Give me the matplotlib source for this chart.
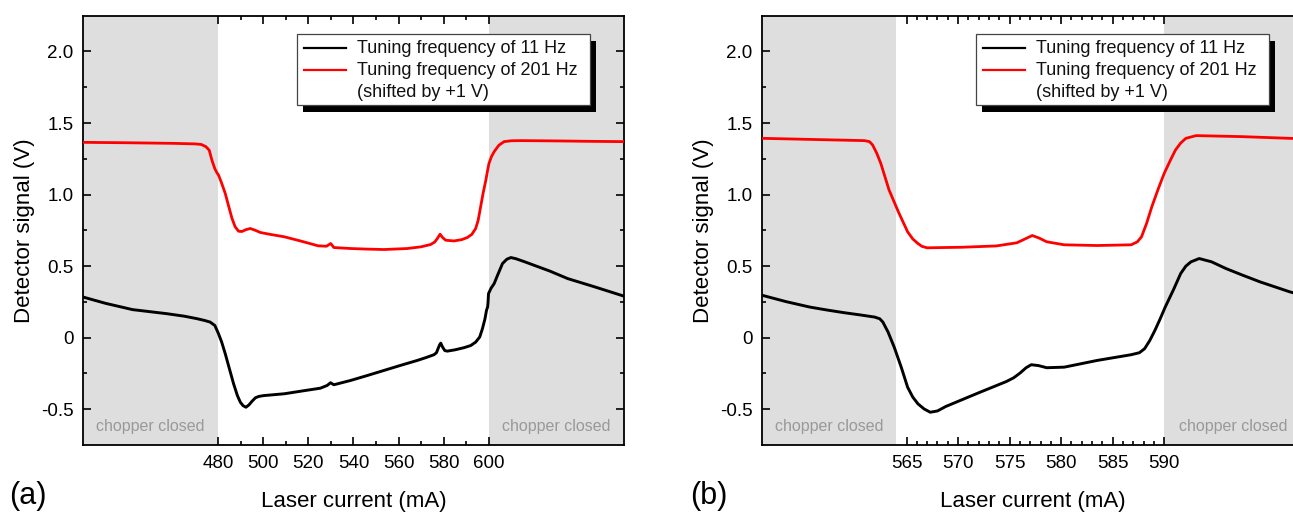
import matplotlib
matplotlib.use('Agg')
import matplotlib.pyplot as plt
from matplotlib.patches import Rectangle
from matplotlib.lines import Line2D
from matplotlib.ticker import FixedLocator, FuncFormatter

plt.rcParams['font.family'] = ['Liberation Sans', 'DejaVu Sans']

# ---------------- data: panel (a) ----------------
a_cur_black = [420, 430, 442, 457, 465, 470.5, 474, 476.4, 478.5, 480.1, 481.5, 483.1, 485, 486.8,
               488.5, 489.8, 491, 492.3, 493.6, 495.0, 496.5, 497.9, 500, 509.3, 517, 525.3, 528.3,
               529.8, 531.3, 538.7, 546, 553.5, 561, 568.3, 572, 575.7, 576.8, 577.5, 578.2, 578.7,
               579.5, 580.5, 581.6, 585, 589.0, 592, 594.2, 596, 597.2, 598.3, 599.0, 599.5, 599.7,
               599.9, 601, 602.4, 604, 606.1, 608, 609.8, 612, 616, 620.1, 627, 635.0, 647, 660]
a_sig_black = [0.284, 0.24, 0.196, 0.168, 0.150, 0.133, 0.120, 0.109, 0.085, 0.028, -0.030, -0.112,
               -0.220, -0.322, -0.405, -0.451, -0.475, -0.486, -0.470, -0.444, -0.420, -0.411,
               -0.405, -0.392, -0.373, -0.353, -0.334, -0.315, -0.329, -0.299, -0.265, -0.229,
               -0.193, -0.159, -0.140, -0.119, -0.105, -0.077, -0.050, -0.038, -0.065, -0.090,
               -0.094, -0.085, -0.070, -0.055, -0.031, 0.005, 0.063, 0.130, 0.191, 0.215, 0.250,
               0.308, 0.345, 0.378, 0.440, 0.518, 0.548, 0.560, 0.552, 0.530, 0.506, 0.466,
               0.413, 0.355, 0.290]

a_cur_red = [420, 440, 460, 470, 472.5, 474.5, 476, 477.2, 478.5, 479.5, 480.1, 481.5, 483.1, 484.6,
             486.1, 487.5, 489.0, 490.5, 492.3, 494.2, 496.5, 498.7, 503, 509.3, 516.9, 524.3,
             528.0, 529.9, 531.3, 538.7, 546, 553.5, 563.9, 570, 574.2, 576, 577.2, 578.4, 579.5,
             580.9, 584.6, 588, 590.5, 592.5, 594.2, 595.3, 596.4, 597.5, 598.7, 599.5, 600.1,
             601.2, 602.4, 604.5, 606.8, 610, 614.2, 630, 645, 660]
a_sig_red = [1.365, 1.362, 1.358, 1.354, 1.350, 1.335, 1.310, 1.240, 1.180, 1.150, 1.137, 1.080,
             1.008, 0.920, 0.833, 0.775, 0.744, 0.742, 0.755, 0.763, 0.750, 0.735, 0.722, 0.705,
             0.674, 0.642, 0.639, 0.658, 0.630, 0.623, 0.619, 0.616, 0.623, 0.635, 0.651, 0.668,
             0.693, 0.723, 0.700, 0.681, 0.676, 0.685, 0.700, 0.722, 0.763, 0.820, 0.915, 1.010,
             1.100, 1.170, 1.218, 1.265, 1.300, 1.345, 1.370, 1.376, 1.377, 1.375, 1.372, 1.370]

# ---------------- data: panel (b) ----------------
b_cur_black = [551.0, 553.3, 555.6, 557.3, 558.9, 560.5, 561.9, 562.4, 562.7, 563.2, 563.8, 564.5,
               565.1, 565.6, 566.1, 566.7, 567.3, 568.0, 568.8, 570.4, 572.0, 574.7, 575.4, 576.0,
               576.6, 577.1, 577.8, 578.6, 580.3, 583.5, 586.8, 587.6, 588.1, 588.6, 589.1, 589.6,
               590.1, 590.9, 591.6, 592.1, 592.6, 593.4, 594.6, 596.0, 597.6, 599.3, 602.2, 603.5]
b_sig_black = [0.296, 0.252, 0.214, 0.193, 0.175, 0.159, 0.144, 0.132, 0.109, 0.040, -0.066,
               -0.210, -0.346, -0.415, -0.462, -0.498, -0.521, -0.512, -0.481, -0.433, -0.385,
               -0.306, -0.280, -0.248, -0.210, -0.189, -0.195, -0.210, -0.206, -0.159, -0.119,
               -0.105, -0.077, -0.020, 0.051, 0.130, 0.214, 0.335, 0.448, 0.500, 0.530, 0.553,
               0.530, 0.483, 0.437, 0.390, 0.320, 0.295]

b_cur_red = [551.0, 556, 560.9, 561.4, 561.7, 562.1, 562.5, 563.3, 564.2, 565.1, 565.6, 566.1,
             566.5, 567.0, 570.4, 573.7, 575.7, 576.5, 577.2, 577.9, 578.6, 580.3, 583.5, 586.8,
             587.4, 587.8, 588.3, 588.8, 589.4, 590.0, 590.6, 591.1, 591.6, 592.1, 593.1, 597.5,
             602.2, 603.5]
b_sig_red = [1.393, 1.385, 1.377, 1.370, 1.347, 1.290, 1.218, 1.032, 0.880, 0.740, 0.690, 0.658,
             0.638, 0.628, 0.632, 0.641, 0.663, 0.690, 0.714, 0.695, 0.670, 0.649, 0.644, 0.649,
             0.670, 0.705, 0.800, 0.915, 1.035, 1.148, 1.240, 1.312, 1.360, 1.393, 1.412, 1.405,
             1.393, 1.390]

# ---------------- axes setup ----------------
a_xlim = (420, 660)
a_shade = [(420, 480), (600, 660)]
a_major = [480, 500, 520, 540, 560, 580, 600]
a_minor = [490, 510, 530, 550, 570, 590]

b_xlim = (551, 603.5)
b_shade = [(551, 564), (590, 603.5)]
b_major = [565, 570, 575, 580, 585, 590]
b_minor = [m for m in range(566, 590) if m % 5 != 0]

y_major = [-0.5, 0, 0.5, 1.0, 1.5, 2.0]
y_minor = [-0.25, 0.25, 0.75, 1.25, 1.75]
ylim = (-0.75, 2.25)

legend_labels = ['Tuning frequency of 11 Hz', 'Tuning frequency of 201 Hz', '(shifted by +1 V)']

W, H = 1293, 513
fig = plt.figure(figsize=(W / 100, H / 100), dpi=100)


def px_ax(x0, y0, w, h):
    return fig.add_axes([x0 / W, 1 - (y0 + h) / H, w / W, h / H])


axA = px_ax(83, 15.7, 541, 429.3)
axB = px_ax(762.3, 15.7, 541, 429.3)


def yfmt(v, pos):
    if abs(v) < 1e-9:
        return '0'
    return f'{v:.1f}'.replace('\u2212', '-')


def style(ax, xlim, shade, major, minor, cb, sb, cr, sr, tag, tagx):
    for s0, s1 in shade:
        ax.axvspan(s0, s1, color='#dedede', lw=0, zorder=0)
        ax.text((s0 + s1) / 2, 0.042, 'chopper closed', transform=ax.get_xaxis_transform(),
                ha='center', va='center', fontsize=11.5, color='#999999', zorder=1)
    ax.plot(cb, sb, color='black', lw=2.1, zorder=3)
    ax.plot(cr, sr, color='#ff0000', lw=2.0, zorder=3)
    ax.set_xlim(*xlim)
    ax.set_ylim(*ylim)
    ax.xaxis.set_major_locator(FixedLocator(major))
    ax.xaxis.set_minor_locator(FixedLocator(minor))
    ax.yaxis.set_major_locator(FixedLocator(y_major))
    ax.yaxis.set_minor_locator(FixedLocator(y_minor))
    ax.yaxis.set_major_formatter(FuncFormatter(yfmt))
    ax.tick_params(which='both', direction='in', top=True, right=True, width=1.2, colors='black')
    ax.tick_params(which='major', length=6, labelsize=13.5, pad=7)
    ax.tick_params(which='minor', length=3)
    for sp in ax.spines.values():
        sp.set_linewidth(1.3)
    ax.set_xlabel('Laser current (mA)', fontsize=16, labelpad=14)
    ax.set_ylabel('Detector signal (V)', fontsize=16, labelpad=4)

    # legend (manual, with black drop shadow)
    x0, x1, y0, y1 = 0.3956, 0.9372, 0.792, 0.957
    ax.add_patch(Rectangle((x0 + 0.0111, y0 - 0.0163), x1 - x0, y1 - y0, transform=ax.transAxes,
                           facecolor='black', edgecolor='none', zorder=8))
    ax.add_patch(Rectangle((x0, y0), x1 - x0, y1 - y0, transform=ax.transAxes,
                           facecolor='white', edgecolor='#444444', lw=0.9, zorder=9))
    rows = [0.924, 0.8735, 0.8206]
    for yy, col in zip(rows[:2], ['black', '#ff0000']):
        ax.add_line(Line2D([0.4085, 0.4856], [yy, yy], transform=ax.transAxes, color=col,
                           lw=1.6, zorder=10))
    for yy, lab in zip(rows, legend_labels):
        ax.text(0.5065, yy, lab, transform=ax.transAxes, ha='left', va='center',
                fontsize=13, color='#111111', zorder=10)

    fig.text(tagx / W, 1 - 496 / H, tag, fontsize=22, ha='left', va='center')


style(axA, a_xlim, a_shade, a_major, a_minor, a_cur_black, a_sig_black, a_cur_red, a_sig_red,
      '(a)', 9)
style(axB, b_xlim, b_shade, b_major, b_minor, b_cur_black, b_sig_black, b_cur_red, b_sig_red,
      '(b)', 690)

fig.savefig('out.png', dpi=100)
